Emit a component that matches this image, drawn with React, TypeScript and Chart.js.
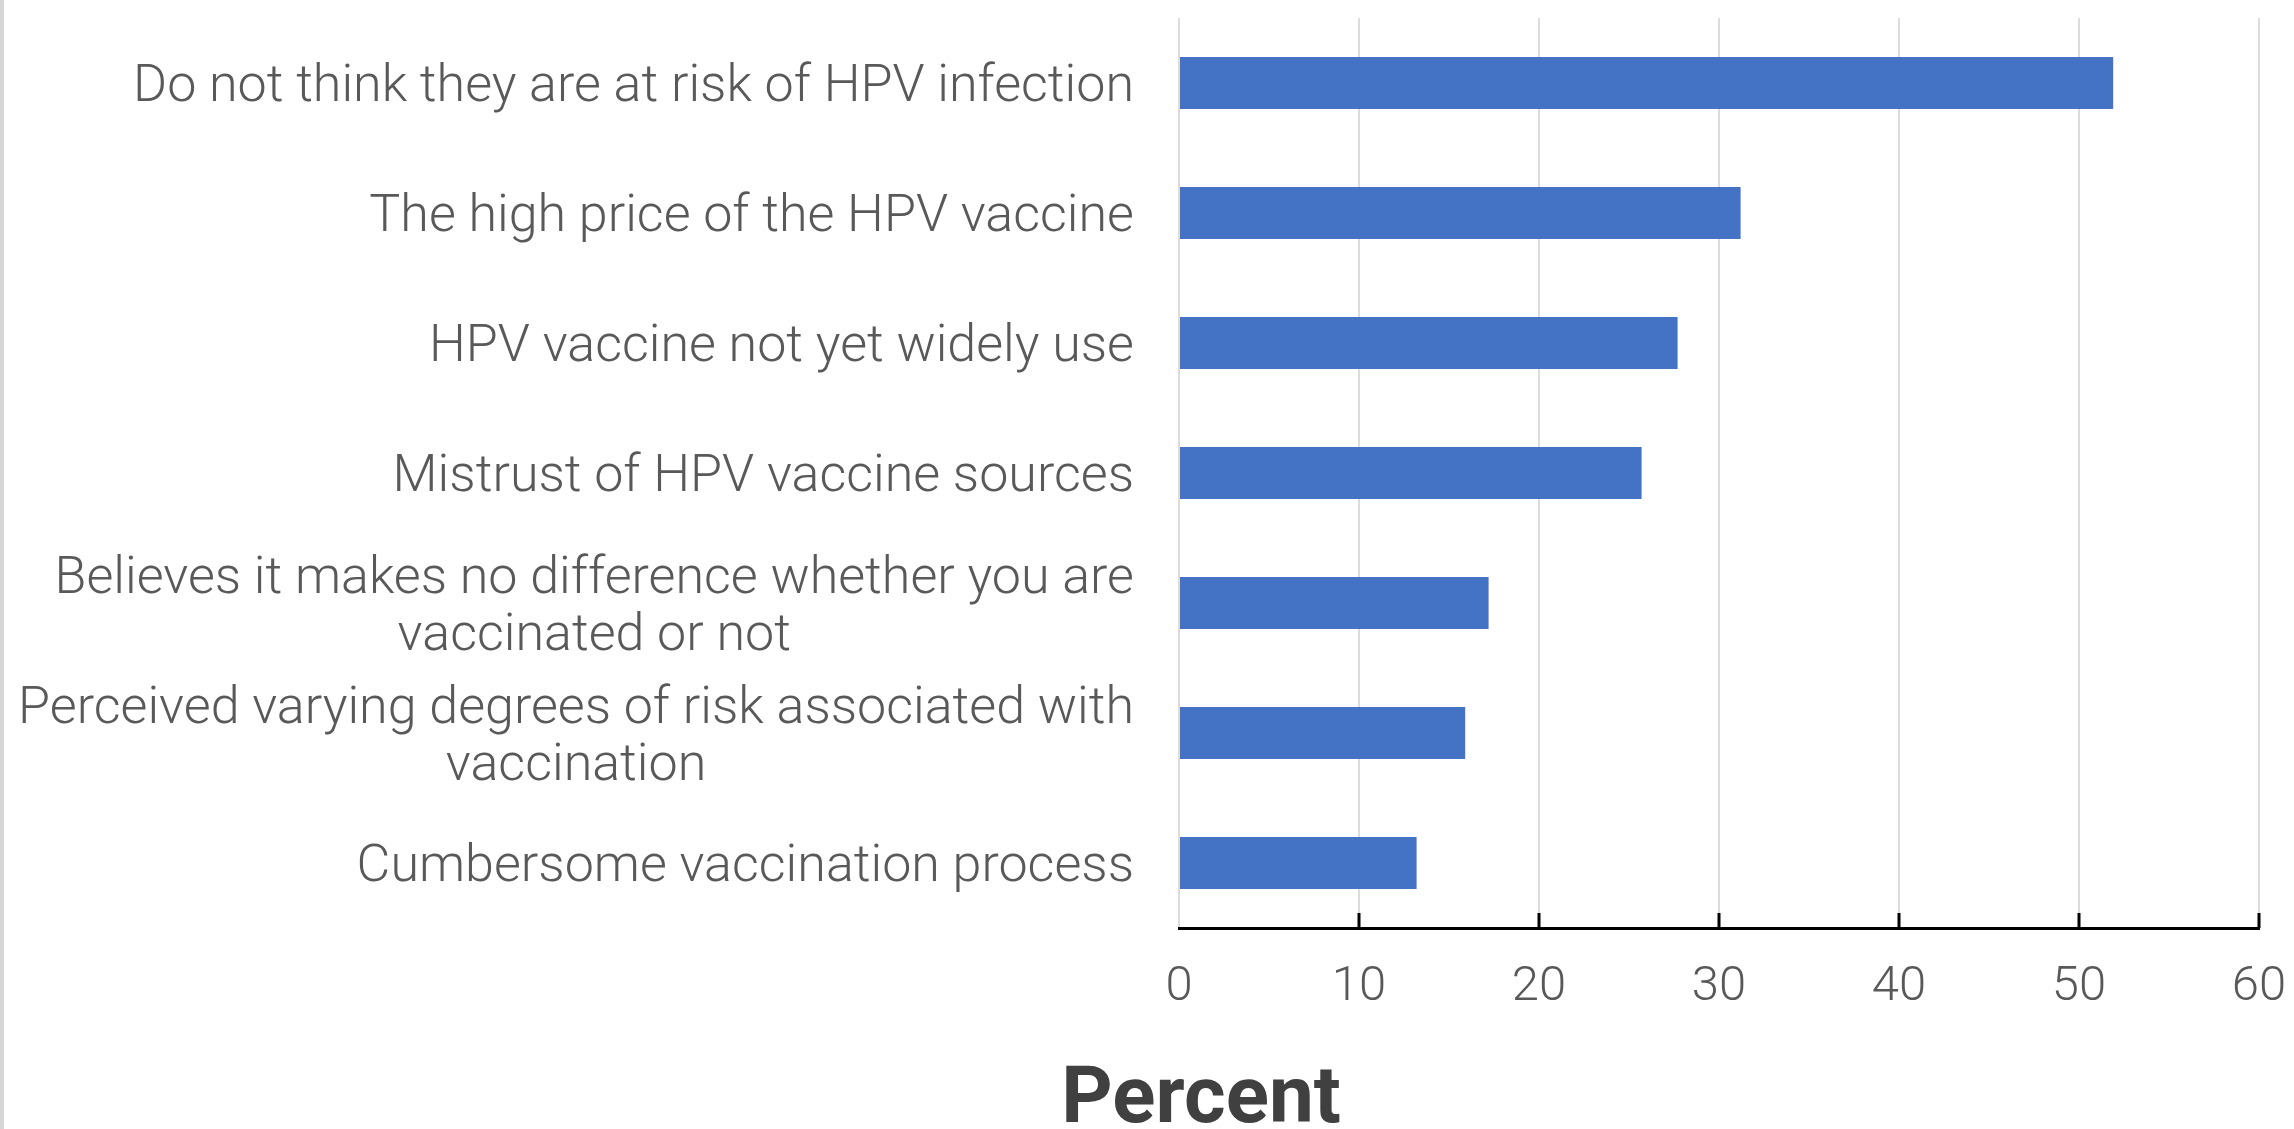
import { useEffect, useRef } from 'react';
import { Chart, registerables } from 'chart.js';

Chart.register(...registerables);

const categories: string[][] = [
  ['Do not think they are at risk of HPV infection'],
  ['The high price of the HPV vaccine'],
  ['HPV vaccine not yet widely use'],
  ['Mistrust of HPV vaccine sources'],
  ['Believes it makes no difference whether you are', 'vaccinated or not'],
  ['Perceived varying degrees of risk associated with', 'vaccination'],
  ['Cumbersome vaccination process'],
];
const percentValues = [51.9, 31.2, 27.7, 25.7, 17.2, 15.9, 13.2];
const xTickValues = [0, 10, 20, 30, 40, 50, 60];
const axisTitle = 'Percent';

const W = 2294;
const H = 1129;
const FONT = 'Roboto, "Noto Sans", sans-serif';

export default function App() {
  const ref = useRef<HTMLCanvasElement | null>(null);

  useEffect(() => {
    const canvas = ref.current;
    if (!canvas) return;

    const overlay = {
      id: 'overlay',
      afterDraw(chart: any) {
        const ctx = chart.ctx as CanvasRenderingContext2D;
        const area = chart.chartArea;
        const xs = chart.scales.x;
        const ys = chart.scales.y;
        ctx.save();
        // left border strip
        ctx.fillStyle = '#d6d6d6';
        ctx.fillRect(0, 0, 4, H);
        // inward tick marks
        ctx.strokeStyle = '#000';
        ctx.lineWidth = 3;
        xTickValues.forEach((v) => {
          if (v === 0) return;
          const px = Math.round(xs.getPixelForValue(v));
          ctx.beginPath();
          ctx.moveTo(px, area.bottom - 15);
          ctx.lineTo(px, area.bottom);
          ctx.stroke();
        });
        // category labels
        ctx.font = `300 52px ${FONT}`;
        ctx.fillStyle = '#595959';
        ctx.textBaseline = 'middle';
        ctx.textAlign = 'center';
        const lineH = 57;
        categories.forEach((lines, i) => {
          const yc = ys.getPixelForValue(i) + 5;
          const bw = Math.max(...lines.map((l) => ctx.measureText(l).width));
          const right = area.left - 45;
          const cx = right - bw / 2;
          lines.forEach((l, j) => {
            const y = yc + (j - (lines.length - 1) / 2) * lineH;
            ctx.fillText(l, cx, y);
          });
        });
        // axis title
        ctx.font = `700 80px ${FONT}`;
        ctx.fillStyle = '#404040';
        ctx.textBaseline = 'alphabetic';
        ctx.textAlign = 'center';
        ctx.fillText(axisTitle, 1201, 1122);
        ctx.restore();
      },
    };

    const chart = new Chart(canvas, {
      type: 'bar',
      data: {
        labels: categories.map((c) => c.join(' ')),
        datasets: [
          {
            data: percentValues,
            backgroundColor: '#4472C4',
            borderWidth: 0,
            barPercentage: 0.4,
            categoryPercentage: 1,
          },
        ],
      },
      options: {
        indexAxis: 'y',
        responsive: false,
        animation: false,
        devicePixelRatio: 1,
        layout: { padding: { top: 18, right: 35, bottom: 0, left: 0 } },
        plugins: {
          legend: { display: false },
          tooltip: { enabled: false },
          title: { display: false },
        },
        scales: {
          x: {
            type: 'linear',
            min: 0,
            max: 60,
            ticks: {
              stepSize: 10,
              color: '#595959',
              font: { family: FONT, size: 49, weight: '300' as any },
              padding: 30,
            },
            grid: { color: '#dcdcdc', lineWidth: 2, drawTicks: false },
            border: { display: true, color: '#000', width: 3 },
            afterFit: (s: any) => {
              s.height = 201;
              s.paddingLeft = 0;
              s.paddingRight = 0;
            },
          },
          y: {
            type: 'category',
            ticks: { display: false },
            grid: { display: false, drawTicks: false },
            border: { display: false },
            afterFit: (s: any) => {
              s.width = 1179;
            },
          },
        },
      },
      plugins: [overlay],
    });

    return () => chart.destroy();
  }, []);

  return (
    <div style={{ position: 'absolute', left: 0, top: 0, width: W, height: H, background: '#fff' }}>
      <canvas ref={ref} width={W} height={H} style={{ width: W, height: H, display: 'block' }} />
    </div>
  );
}
